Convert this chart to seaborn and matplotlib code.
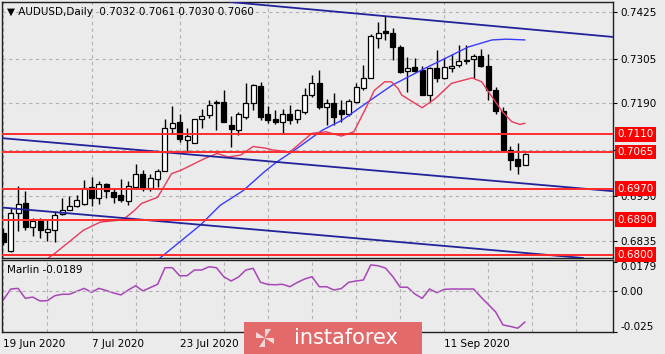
import numpy as np
import pandas as pd
import matplotlib
matplotlib.use("Agg")
import matplotlib.pyplot as plt
import seaborn as sns
from matplotlib.patches import Rectangle, Polygon
import matplotlib.transforms as mtransforms

# ---------------- data ----------------
opens = [0.6855, 0.6809, 0.6908, 0.6933, 0.6871, 0.6886, 0.6858, 0.6864, 0.6904, 0.6916,
         0.6925, 0.6930, 0.6974, 0.6946, 0.6982, 0.6961, 0.6953, 0.6938, 0.6974, 0.7009,
         0.6971, 0.6995, 0.7015, 0.7126, 0.7141, 0.7095, 0.7089, 0.7149, 0.7160, 0.7190,
         0.7193, 0.7134, 0.7121, 0.7156, 0.7190, 0.7235, 0.7162, 0.7151, 0.7141, 0.7162,
         0.7149, 0.7169, 0.7212, 0.7242, 0.7180, 0.7190, 0.7173, 0.7162, 0.7194, 0.7229,
         0.7255, 0.7358, 0.7377, 0.7371, 0.7336, 0.7274, 0.7283, 0.7276, 0.7213, 0.7281,
         0.7255, 0.7281, 0.7289, 0.7302, 0.7305, 0.7312, 0.7287, 0.7224, 0.7170, 0.7070,
         0.7046, 0.7032]
highs = [0.6870, 0.6920, 0.6976, 0.6964, 0.6894, 0.6894, 0.6889, 0.6912, 0.6946, 0.6951,
         0.6953, 0.6992, 0.7000, 0.6989, 0.6984, 0.6971, 0.6996, 0.6991, 0.7035, 0.7018,
         0.7009, 0.7020, 0.7151, 0.7184, 0.7164, 0.7126, 0.7151, 0.7177, 0.7199, 0.7199,
         0.7224, 0.7157, 0.7169, 0.7242, 0.7240, 0.7246, 0.7183, 0.7173, 0.7177, 0.7186,
         0.7177, 0.7229, 0.7263, 0.7276, 0.7201, 0.7216, 0.7199, 0.7201, 0.7242, 0.7289,
         0.7369, 0.7401, 0.7416, 0.7384, 0.7341, 0.7311, 0.7308, 0.7287, 0.7285, 0.7328,
         0.7308, 0.7317, 0.7341, 0.7341, 0.7319, 0.7330, 0.7317, 0.7233, 0.7181, 0.7081,
         0.7089, 0.7061]
lows = [0.6824, 0.6808, 0.6860, 0.6863, 0.6847, 0.6842, 0.6834, 0.6832, 0.6902, 0.6915,
        0.6922, 0.6927, 0.6925, 0.6930, 0.6946, 0.6933, 0.6935, 0.6927, 0.6969, 0.6964,
        0.6964, 0.6975, 0.7015, 0.7110, 0.7091, 0.7065, 0.7089, 0.7126, 0.7153, 0.7121,
        0.7141, 0.7078, 0.7108, 0.7151, 0.7173, 0.7147, 0.7139, 0.7137, 0.7113, 0.7137,
        0.7139, 0.7164, 0.7207, 0.7177, 0.7134, 0.7134, 0.7143, 0.7157, 0.7190, 0.7224,
        0.7255, 0.7332, 0.7355, 0.7302, 0.7268, 0.7220, 0.7272, 0.7212, 0.7194, 0.7246,
        0.7253, 0.7272, 0.7285, 0.7291, 0.7256, 0.7285, 0.7199, 0.7164, 0.7070, 0.7018,
        0.7009, 0.7030]
closes = [0.6832, 0.6908, 0.6930, 0.6871, 0.6886, 0.6863, 0.6867, 0.6903, 0.6915, 0.6925,
          0.6940, 0.6971, 0.6946, 0.6982, 0.6965, 0.6949, 0.6940, 0.6978, 0.7009, 0.6971,
          0.6998, 0.7015, 0.7126, 0.7139, 0.7098, 0.7106, 0.7150, 0.7157, 0.7186, 0.7194,
          0.7143, 0.7124, 0.7164, 0.7190, 0.7237, 0.7156, 0.7147, 0.7143, 0.7162, 0.7147,
          0.7173, 0.7212, 0.7242, 0.7180, 0.7192, 0.7154, 0.7164, 0.7197, 0.7233, 0.7255,
          0.7364, 0.7372, 0.7371, 0.7335, 0.7270, 0.7281, 0.7274, 0.7212, 0.7281, 0.7256,
          0.7283, 0.7287, 0.7299, 0.7299, 0.7312, 0.7287, 0.7224, 0.7170, 0.7070, 0.7044,
          0.7029, 0.7060]

# slow (blue) moving average: bar position, price
blue_ma_pos = [21.3, 26.8, 29.5, 32.7, 35.6, 37.2, 39.5, 41.5, 43.4, 46.1, 50.3, 52.9,
               57.4, 60.1, 63.3, 66.5, 68.5, 71.0]
blue_ma_val = [0.6791, 0.6876, 0.6927, 0.6966, 0.7015, 0.7039, 0.7068, 0.7095, 0.7121,
               0.7147, 0.7203, 0.7237, 0.7281, 0.7306, 0.7336, 0.7354, 0.7356, 0.7354]
# fast (red) moving average
red_ma_pos = [6.1, 7.0, 10.9, 13.2, 16.3, 17.9, 18.8, 21.0, 22.9, 24.2, 27.4, 29.1, 30.6,
              32.3, 34.0, 35.6, 36.7, 39.0, 42.0, 43.9, 46.0, 47.7, 49.2, 50.5, 51.9, 52.8,
              53.7, 54.2, 57.0, 58.8, 61.0, 63.8, 65.1, 66.5, 67.9, 69.2, 70.3, 71.0]
red_ma_val = [0.6791, 0.6803, 0.6863, 0.6884, 0.6890, 0.6915, 0.6932, 0.6948, 0.7009,
              0.7018, 0.7048, 0.7061, 0.7052, 0.7057, 0.7079, 0.7075, 0.7070, 0.7065,
              0.7113, 0.7117, 0.7106, 0.7117, 0.7173, 0.7224, 0.7246, 0.7246, 0.7229,
              0.7212, 0.7179, 0.7203, 0.7242, 0.7256, 0.7246, 0.7207, 0.7169, 0.7143,
              0.7136, 0.7139]

marlin = [-0.0055, 0.0012, 0.0016, -0.0045, -0.0037, -0.0061, -0.0059, -0.0029, -0.0020,
          -0.0020, -0.0002, 0.0016, -0.0008, 0.0016, 0.0003, -0.0012, -0.0024, 0.0006,
          0.0032, 0.0000, 0.0021, 0.0041, 0.0142, 0.0142, 0.0093, 0.0093, 0.0128, 0.0128,
          0.0148, 0.0142, 0.0087, 0.0061, 0.0085, 0.0128, 0.0138, 0.0053, 0.0040, 0.0038,
          0.0041, 0.0026, 0.0052, 0.0073, 0.0087, 0.0026, 0.0026, 0.0006, 0.0015, 0.0053,
          0.0061, 0.0067, 0.0159, 0.0154, 0.0140, 0.0088, 0.0023, 0.0023, -0.0018, -0.0045,
          0.0012, -0.0010, 0.0010, 0.0012, 0.0012, 0.0012, 0.0012, -0.0037, -0.0082,
          -0.0128, -0.0207, -0.0216, -0.0227, -0.0189]

# trend channel lines: two anchor points (bar position, price)
upper_line = [(30.2, 0.7453), (82.8, 0.7362)]
middle_line = [(-0.45, 0.7101), (82.8, 0.6964)]
lower_line = [(-0.45, 0.6922), (79.1, 0.6791)]

levels = [0.7110, 0.7065, 0.6970, 0.6890, 0.6800]
price_ticks = [0.7425, 0.7305, 0.7190, 0.7070, 0.6950, 0.6835]
# 0.7070 label sits behind the 0.7065 level box in the reference
price_tick_labels = ["0.7425", "0.7305", "0.7190", "", "0.6950", "0.6835"]
date_pos = [0, 12, 24, 36, 48, 60]
# labels at 36 and 48 are covered by the watermark banner in the reference
date_labels = ["19 Jun 2020", "7 Jul 2020", "23 Jul 2020", "", "", "11 Sep 2020"]
marlin_ticks = [0.0179, 0.0, -0.025]
marlin_tick_labels = ["0.0179", "0.00", "-0.025"]

# ---------------- style ----------------
sns.set_theme(style="white")
BG = "#ebebeb"
plt.rcParams["font.family"] = ["DejaVu Sans"]
FS = 7.5

W, H = 665, 354
fig = plt.figure(figsize=(W / 100, H / 100), dpi=100, facecolor=BG)


def rect(x0, y0, x1, y1):
    return [x0 / W, 1 - y1 / H, (x1 - x0) / W, (y1 - y0) / H]


ax = fig.add_axes(rect(2, 2, 612.5, 258))
axm = fig.add_axes(rect(2, 260, 612.5, 332), sharex=ax)

for a in (ax, axm):
    a.set_facecolor(BG)
    for s in a.spines.values():
        s.set_color("#202020")
        s.set_linewidth(1.0)

grid_kw = dict(color="#b2b2b2", linestyle=(0, (3, 3)), linewidth=0.8)

# ---------------- main panel ----------------
n = len(opens)
df = pd.DataFrame({"o": opens, "h": highs, "l": lows, "c": closes})
df["x"] = np.arange(n)
up = df["c"] >= df["o"]
body_lo = np.minimum(df["o"], df["c"])
body_h = np.maximum(np.abs(df["c"] - df["o"]), 0.00006)

ax.vlines(df["x"], df["l"], df["h"], color="black", linewidth=1.0, zorder=3)
ax.bar(df["x"][up], body_h[up], bottom=body_lo[up], width=0.68,
       color="white", edgecolor="black", linewidth=0.9, zorder=3.2)
ax.bar(df["x"][~up], body_h[~up], bottom=body_lo[~up], width=0.68,
       color="black", edgecolor="black", linewidth=0.9, zorder=3.2)

sns.lineplot(x=blue_ma_pos, y=blue_ma_val, ax=ax, color="#3a3aff", linewidth=1.0,
             sort=False, estimator=None, zorder=3.5)
sns.lineplot(x=red_ma_pos, y=red_ma_val, ax=ax, color="#e83a5a", linewidth=1.0,
             sort=False, estimator=None, zorder=3.5)

for ln in (upper_line, middle_line, lower_line):
    ax.axline(ln[0], ln[1], color="#22229a", linewidth=1.3, zorder=3.6)

for lv in levels:
    ax.axhline(lv, color="#ff2b2b", linewidth=1.4, zorder=3.7)

ax.set_xlim(-0.18, 82.9)
ax.set_ylim(0.67913, 0.74519)
ax.yaxis.tick_right()
ax.set_yticks(price_ticks)
ax.set_yticklabels(price_tick_labels)
ax.tick_params(axis="y", direction="out", length=3, width=0.8, pad=3,
               labelsize=FS, colors="black")
ax.set_xticks(np.arange(0, 83, 6))
ax.tick_params(axis="x", length=0, labelbottom=False)
ax.grid(True, **grid_kw)
ax.set_axisbelow(True)

# level labels (red boxes on the price scale)
trans = mtransforms.blended_transform_factory(ax.transAxes, ax.transData)
for lv in levels:
    ax.text(1.0085, lv, f"{lv:.4f}", transform=trans, ha="left", va="center",
            fontsize=FS, color="white", clip_on=False, zorder=20,
            bbox=dict(boxstyle="square,pad=0.22", fc="#ff0000", ec="none"))

fig.text(7 / W, 1 - 12 / H, "\u25bc AUDUSD,Daily  0.7032 0.7061 0.7030 0.7060",
         fontsize=FS, color="black", ha="left", va="center")

# ---------------- Marlin panel ----------------
sns.lineplot(x=np.arange(n), y=marlin, ax=axm, color="#a845b8", linewidth=1.1,
             sort=False, estimator=None)
axm.set_ylim(-0.0250, 0.0189)
axm.yaxis.tick_right()
axm.set_yticks(marlin_ticks)
axm.set_yticklabels(marlin_tick_labels)
axm.tick_params(axis="y", direction="out", length=3, width=0.8, pad=3,
                labelsize=FS, colors="black")
ylabs = axm.get_yticklabels()
ylabs[0].set_va("top")
ylabs[2].set_va("bottom")
axm.axhline(0.0, **grid_kw)
axm.set_xticks(date_pos)
axm.set_xticklabels(date_labels, ha="left")
axm.set_xticks(np.arange(0, 83, 6), minor=True)
axm.tick_params(axis="x", which="major", direction="out", length=4, width=0.8,
                pad=1, labelsize=FS, colors="black")
axm.tick_params(axis="x", which="minor", length=0)
axm.grid(True, axis="x", which="both", **grid_kw)
axm.set_axisbelow(True)
fig.text(7 / W, 1 - 270 / H, "Marlin -0.0189", fontsize=FS, color="black",
         ha="left", va="center")

# ---------------- watermark banner ----------------
fig.patches.append(Rectangle((244 / W, 0), (422 - 244) / W, (354 - 322) / H,
                             transform=fig.transFigure, fc="#e26a6a", ec="none",
                             zorder=30))
cx, cy = 265, 338
for dx, dy in [(1, 0), (0, 1), (-1, 0), (0, -1)]:
    px, py = -dy, dx
    pts = [(cx, cy), (cx + dx * 9, cy + dy * 9), (cx + dx * 9 + px * 6, cy + dy * 9 + py * 6)]
    fig.patches.append(Polygon([(p[0] / W, 1 - p[1] / H) for p in pts], closed=True,
                               transform=fig.transFigure, fc="#f3d6d6", ec="none",
                               zorder=31))
fig.text(346 / W, 1 - 338 / H, "instaforex", fontsize=15, color="white",
         ha="center", va="center", zorder=32)

fig.savefig("out.png", dpi=100, facecolor=BG)
